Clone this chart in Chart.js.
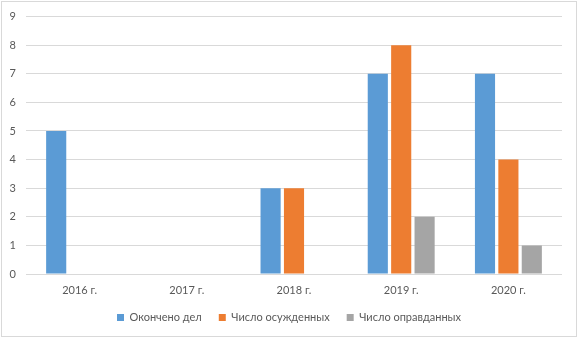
<!DOCTYPE html>
<html>
<head>
<meta charset="utf-8">
<script src="https://cdn.jsdelivr.net/npm/chart.js@4/dist/chart.umd.min.js"></script>
<style>
  html, body { margin: 0; padding: 0; background: #fff; }
  #wrap { width: 578px; height: 338px; position: relative; }
</style>
</head>
<body>
<div id="wrap"><canvas id="c" width="578" height="338"></canvas></div>
<script>
const categories = ['2016 г.', '2017 г.', '2018 г.', '2019 г.', '2020 г.'];
const seriesNames = ['Окончено дел', 'Число осужденных', 'Число оправданных'];
const okonchenoDel = [5, 0, 3, 7, 7];
const osuzhdennyh = [0, 0, 3, 8, 4];
const opravdannyh = [0, 0, 0, 2, 1];
const yTicks = [0, 1, 2, 3, 4, 5, 6, 7, 8, 9];

const colors = ['#5B9BD5', '#ED7D31', '#A5A5A5'];
const textColor = '#595959';
const fontFamily = 'Lato, "Liberation Sans", sans-serif';

const borderPlugin = {
  id: 'outerBorder',
  beforeDraw(chart) {
    const ctx = chart.ctx;
    ctx.save();
    ctx.fillStyle = '#fff';
    ctx.fillRect(0, 0, chart.width, chart.height);
    ctx.strokeStyle = '#d9d9d9';
    ctx.lineWidth = 1;
    ctx.strokeRect(1.5, 1.5, chart.width - 3, chart.height - 3);
    ctx.restore();
  }
};

function noLabelClip(scale) { scale._computeLabelArea = () => undefined; }

new Chart(document.getElementById('c'), {
  type: 'bar',
  data: {
    labels: categories,
    datasets: [okonchenoDel, osuzhdennyh, opravdannyh].map((d, i) => ({
      label: seriesNames[i],
      data: d,
      backgroundColor: colors[i],
      borderWidth: 0,
      categoryPercentage: 0.655,
      barPercentage: 0.86
    }))
  },
  options: {
    responsive: false,
    animation: false,
    devicePixelRatio: 1,
    layout: { padding: { left: 16, right: 16, top: 15, bottom: 5 } },
    plugins: {
      tooltip: { enabled: false },
      legend: {
        position: 'bottom',
        labels: {
          boxWidth: 7,
          boxHeight: 7,
          padding: 17,
          color: textColor,
          font: { family: fontFamily, size: 11 }
        }
      }
    },
    scales: {
      x: {
        grid: { display: false, drawTicks: false },
        border: { display: false },
        ticks: { color: textColor, padding: 10, font: { family: fontFamily, size: 11 } },
        afterFit(scale) { scale.height = 21; noLabelClip(scale); }
      },
      y: {
        min: 0,
        max: 9,
        grid: { color: '#d9d9d9', lineWidth: 1, drawTicks: false },
        border: { display: false },
        afterBuildTicks(scale) { scale.ticks = yTicks.map(v => ({ value: v })); },
        ticks: { color: textColor, padding: 10, font: { family: fontFamily, size: 11 } },
        afterFit(scale) { scale.width = 10; noLabelClip(scale); }
      }
    }
  },
  plugins: [borderPlugin]
});
</script>
</body>
</html>
